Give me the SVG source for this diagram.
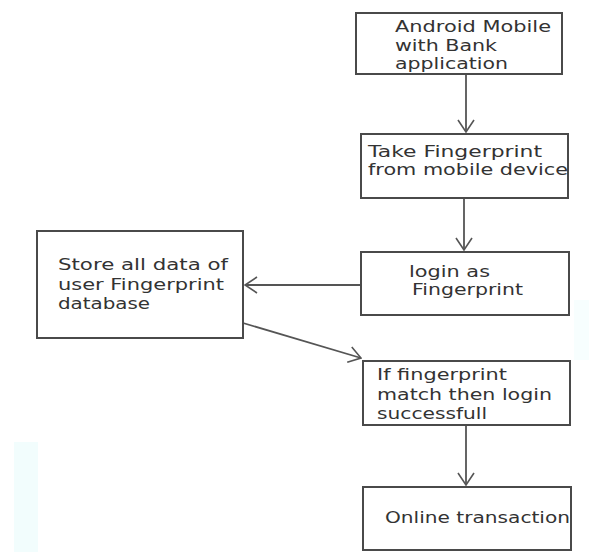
<svg xmlns="http://www.w3.org/2000/svg" width="589" height="552" viewBox="0 0 589 552">
  <defs>
    <style>
      .box { fill: #ffffff; stroke: #4a4a4a; stroke-width: 2; }
      .lbl { font-family: "DejaVu Sans", Verdana, sans-serif; font-size: 15.5px; fill: #333333; }
      .edge { fill: none; stroke: #555555; stroke-width: 1.8; }
      .tint { fill: #f2fdfd; }
    </style>
    <!-- open V arrowhead -->
    <marker id="vhead" viewBox="0 0 14 18" refX="13" refY="9" markerWidth="14" markerHeight="18" markerUnits="userSpaceOnUse" orient="auto">
      <path d="M1,1 L13,9 L1,17" fill="none" stroke="#555555" stroke-width="1.6"/>
    </marker>
  </defs>

  <rect width="589" height="552" fill="#ffffff"/>
  <!-- faint background tints -->
  <rect class="tint" x="14" y="442" width="24" height="110"/>
  <rect class="tint" x="574" y="300" width="15" height="60" opacity="0.6"/>

  <g id="connectors">
    <line class="edge" x1="466" y1="74" x2="466" y2="132" marker-end="url(#vhead)"/>
    <line class="edge" x1="464" y1="198" x2="464" y2="250" marker-end="url(#vhead)"/>
    <line class="edge" x1="361" y1="285" x2="245" y2="285" marker-end="url(#vhead)"/>
    <line class="edge" x1="243" y1="323" x2="361" y2="358" marker-end="url(#vhead)"/>
    <line class="edge" x1="466" y1="425" x2="466" y2="485" marker-end="url(#vhead)"/>
  </g>

  <g id="android-mobile">
    <rect class="box" x="356" y="13" width="206" height="61"/>
    <text class="lbl" x="395" y="32" textLength="156" lengthAdjust="spacingAndGlyphs">Android Mobile</text>
    <text class="lbl" x="395" y="51" textLength="102" lengthAdjust="spacingAndGlyphs">with Bank</text>
    <text class="lbl" x="395" y="69" textLength="113" lengthAdjust="spacingAndGlyphs">application</text>
  </g>

  <g id="take-fingerprint">
    <rect class="box" x="361" y="134" width="207" height="64"/>
    <text class="lbl" x="368" y="157" textLength="174" lengthAdjust="spacingAndGlyphs">Take Fingerprint</text>
    <text class="lbl" x="368" y="175" textLength="200" lengthAdjust="spacingAndGlyphs">from mobile device</text>
  </g>

  <g id="login">
    <rect class="box" x="361" y="252" width="208" height="63"/>
    <text class="lbl" x="409" y="277" textLength="81" lengthAdjust="spacingAndGlyphs">login as</text>
    <text class="lbl" x="412" y="295" textLength="111" lengthAdjust="spacingAndGlyphs">Fingerprint</text>
  </g>

  <g id="store-data">
    <rect class="box" x="37" y="231" width="206" height="107"/>
    <text class="lbl" x="58" y="270" textLength="170" lengthAdjust="spacingAndGlyphs">Store all data of</text>
    <text class="lbl" x="58" y="290" textLength="166" lengthAdjust="spacingAndGlyphs">user Fingerprint</text>
    <text class="lbl" x="58" y="309" textLength="92" lengthAdjust="spacingAndGlyphs">database</text>
  </g>

  <g id="match-check">
    <rect class="box" x="363" y="361" width="207" height="64"/>
    <text class="lbl" x="377" y="380" textLength="130" lengthAdjust="spacingAndGlyphs">If fingerprint</text>
    <text class="lbl" x="377" y="400" textLength="175" lengthAdjust="spacingAndGlyphs">match then login</text>
    <text class="lbl" x="377" y="419" textLength="110" lengthAdjust="spacingAndGlyphs">successfull</text>
  </g>

  <g id="online-transaction">
    <rect class="box" x="363" y="487" width="208" height="63"/>
    <text class="lbl" x="385" y="523" textLength="185" lengthAdjust="spacingAndGlyphs">Online transaction</text>
  </g>
</svg>
